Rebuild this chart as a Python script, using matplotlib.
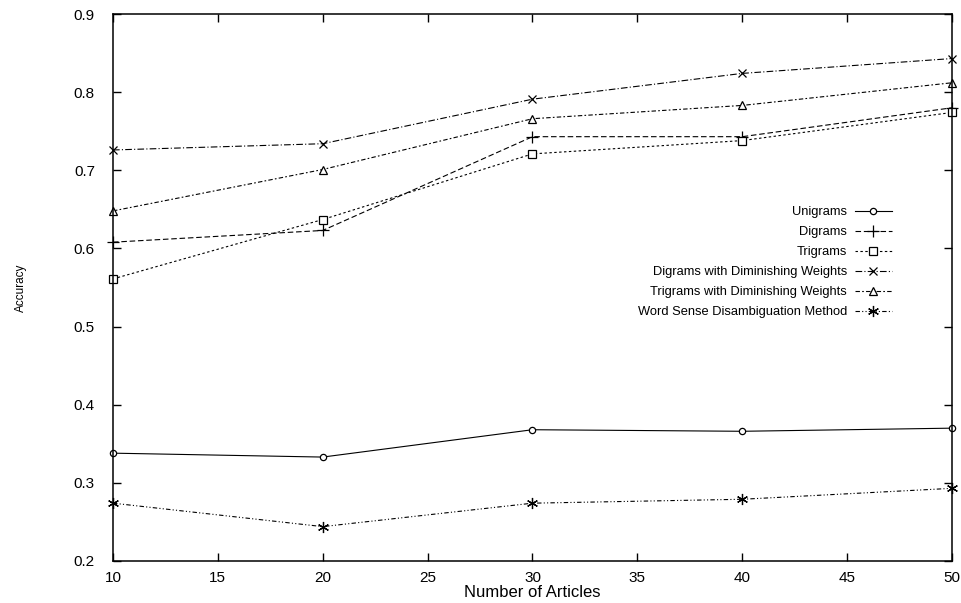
import matplotlib
matplotlib.use("Agg")
import matplotlib.pyplot as plt

articles = [10, 20, 30, 40, 50]
unigrams = [0.338, 0.333, 0.368, 0.366, 0.370]
digrams = [0.608, 0.623, 0.743, 0.743, 0.780]
trigrams = [0.561, 0.637, 0.721, 0.738, 0.774]
digrams_dw = [0.726, 0.734, 0.791, 0.824, 0.843]
trigrams_dw = [0.648, 0.701, 0.766, 0.783, 0.812]
wsd = [0.274, 0.244, 0.274, 0.279, 0.293]

labels = ["Unigrams", "Digrams", "Trigrams", "Digrams with Diminishing Weights",
          "Trigrams with Diminishing Weights", "Word Sense Disambiguation Method"]
xticks = [10, 15, 20, 25, 30, 35, 40, 45, 50]
yticks = [0.2, 0.3, 0.4, 0.5, 0.6, 0.7, 0.8, 0.9]

plt.rcParams['font.family'] = ['Liberation Sans', 'DejaVu Sans']

fig = plt.figure(figsize=(9.62, 6.03), dpi=100)
ax = fig.add_axes([113/962, 1 - 561/603, (952-113)/962, (561-14)/603])

lw = 0.8
styles = [
    dict(linestyle='-', marker='o', ms=4.5, mfc='white'),
    dict(linestyle=(0, (5, 2.5)), marker='+', ms=8),
    dict(linestyle=(0, (2.2, 2.2)), marker='s', ms=6, mfc='white'),
    dict(linestyle=(0, (6, 2, 1, 2)), marker='x', ms=6),
    dict(linestyle=(0, (4, 2, 1.5, 2)), marker='^', ms=6, mfc='white'),
    dict(linestyle=(0, (4, 2, 1, 2, 1, 2)), marker=(6, 2, 0), ms=8),
]
series = [unigrams, digrams, trigrams, digrams_dw, trigrams_dw, wsd]
for vals, lab, st in zip(series, labels, styles):
    ax.plot(articles, vals, color='black', lw=lw, mew=0.9, label=lab, clip_on=False, **st)

ax.set_xlim(10, 50)
ax.set_ylim(0.2, 0.9)
ax.set_xticks(xticks)
ax.set_yticks(yticks)
ax.set_xticklabels([str(t) for t in xticks])
ax.set_yticklabels([f"{t:.1f}" for t in yticks])
ax.tick_params(direction='in', length=6, width=1, top=True, right=True,
               labelsize=11, colors='black')
ax.tick_params(axis='y', pad=13)
ax.tick_params(axis='x', pad=7)
for s in ax.spines.values():
    s.set_linewidth(1.1)

ax.set_xlabel("Number of Articles", fontsize=12, labelpad=0)
ax.set_ylabel("Accuracy", fontsize=8.5, labelpad=34)

leg = ax.legend(loc='upper right', bbox_to_anchor=(892/962, 1 - 206/603),
                bbox_transform=fig.transFigure, frameon=False, markerfirst=False,
                fontsize=9.3, handlelength=2.9, handletextpad=0.6,
                labelspacing=0.62, borderpad=0, borderaxespad=0, numpoints=1)

fig.savefig("out.png", dpi=100, facecolor='white')
